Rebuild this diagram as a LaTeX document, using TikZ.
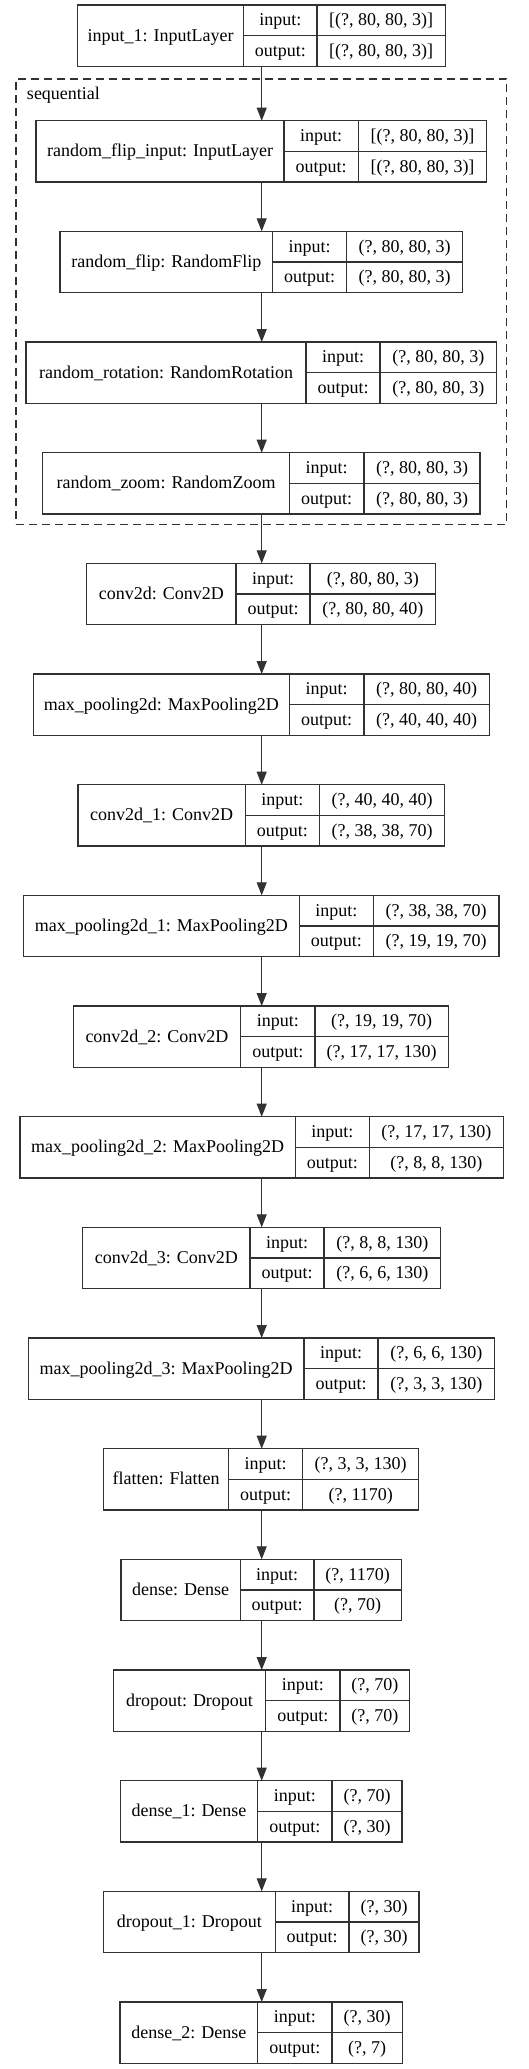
\documentclass[tikz,border=0pt]{standalone}
\usepackage{fontspec}
\setmainfont{Liberation Serif}
\usetikzlibrary{arrows.meta}
\definecolor{lc}{RGB}{50,50,50}
\tikzset{
  lbox/.style={draw=lc, line width=1.1pt, inner sep=0pt, outer sep=0pt, minimum height=61.3pt},
  ln/.style={draw=lc, line width=1.1pt},
  txt/.style={inner sep=0pt, outer sep=0pt, text height=15pt, text depth=4pt, font=\fontsize{18}{20}\selectfont},
  plaintxt/.style={inner sep=0pt, outer sep=0pt, font=\fontsize{18}{20}\selectfont},
  arr/.style={draw=lc, line width=1.1pt, -{Triangle[length=13pt, width=10pt]}},
  cluster/.style={draw=lc, line width=1.1pt, dash pattern=on 8pt off 5pt, inner sep=0pt, outer sep=0pt}
}
\newcommand{\lyr}[9]{%
  \pgfmathsetmacro{\lA}{(#3+#4)/2}%
  \pgfmathsetmacro{\lB}{(#4+#5)/2}%
  \pgfmathsetmacro{\lC}{(#5+#6)/2}%
  \pgfmathsetmacro{\lW}{#6-#3}%
  \pgfmathsetmacro{\lM}{-#2-30.65}%
  \pgfmathsetmacro{\lT}{-#2-15.33}%
  \pgfmathsetmacro{\lU}{-#2-45.98}%
  \pgfmathsetmacro{\lE}{-#2-61.3}%
  \node[lbox, minimum width=\lW pt, anchor=north west] (#1) at (#3pt,-#2pt) {};
  \draw[ln] (#4pt,-#2pt) -- (#4pt,\lE pt);
  \draw[ln] (#5pt,-#2pt) -- (#5pt,\lE pt);
  \draw[ln] (#4pt,\lM pt) -- (#6pt,\lM pt);
  \node[txt] (#1-l) at (\lA pt,\lM pt) {#7};
  \node[txt] (#1-il) at (\lB pt,\lT pt) {input:};
  \node[txt] (#1-ol) at (\lB pt,\lU pt) {output:};
  \node[txt] (#1-iv) at (\lC pt,\lT pt) {#8};
  \node[txt] (#1-ov) at (\lC pt,\lU pt) {#9};
}
\begin{document}
\begin{tikzpicture}
\useasboundingbox[fill=white] (0,0) rectangle (528pt,-2069pt);
\coordinate (ax) at (261.7pt,0);
\node[cluster, minimum width=490.7pt, minimum height=445.3pt, anchor=north west] (seq) at (16pt,-79pt) {};
\node[plaintxt, anchor=base west] (seqlabel) at (27pt,-99.5pt) {sequential};
\lyr{in1}{5}{77.7}{243.7}{317}{445.3}{input\_1: InputLayer}{[(?, 80, 80, 3)]}{[(?, 80, 80, 3)]}
\lyr{rfi}{120.7}{36}{284}{358.3}{486.7}{random\_flip\_input: InputLayer}{[(?, 80, 80, 3)]}{[(?, 80, 80, 3)]}
\lyr{rf}{231.3}{60}{272.7}{346.7}{462.7}{random\_flip: RandomFlip}{(?, 80, 80, 3)}{(?, 80, 80, 3)}
\lyr{rr}{342}{26}{306}{380}{496.7}{random\_rotation: RandomRotation}{(?, 80, 80, 3)}{(?, 80, 80, 3)}
\lyr{rz}{452.7}{42.7}{289.3}{364}{480}{random\_zoom: RandomZoom}{(?, 80, 80, 3)}{(?, 80, 80, 3)}
\lyr{c0}{563.3}{86.7}{236}{310}{435.7}{conv2d: Conv2D}{(?, 80, 80, 3)}{(?, 80, 80, 40)}
\lyr{m0}{674}{33.3}{289.3}{364}{489.3}{max\_pooling2d: MaxPooling2D}{(?, 80, 80, 40)}{(?, 40, 40, 40)}
\lyr{c1}{784.7}{78}{245.3}{319.3}{444.7}{conv2d\_1: Conv2D}{(?, 40, 40, 40)}{(?, 38, 38, 70)}
\lyr{m1}{895.3}{23.3}{299.3}{373.3}{499}{max\_pooling2d\_1: MaxPooling2D}{(?, 38, 38, 70)}{(?, 19, 19, 70)}
\lyr{c2}{1006}{73.3}{240.7}{315}{448.3}{conv2d\_2: Conv2D}{(?, 19, 19, 70)}{(?, 17, 17, 130)}
\lyr{m2}{1116.7}{20}{295.3}{369.3}{503.3}{max\_pooling2d\_2: MaxPooling2D}{(?, 17, 17, 130)}{(?, 8, 8, 130)}
\lyr{c3}{1227.3}{82.7}{250}{324}{440.7}{conv2d\_3: Conv2D}{(?, 8, 8, 130)}{(?, 6, 6, 130)}
\lyr{m3}{1338}{28.3}{304}{378}{494.7}{max\_pooling2d\_3: MaxPooling2D}{(?, 6, 6, 130)}{(?, 3, 3, 130)}
\lyr{fl}{1448.7}{103.7}{228.7}{302.7}{418.7}{flatten: Flatten}{(?, 3, 3, 130)}{(?, 1170)}
\lyr{d0}{1559.3}{121}{240.3}{314}{401.3}{dense: Dense}{(?, 1170)}{(?, 70)}
\lyr{do0}{1670}{113.3}{265.7}{340}{409.7}{dropout: Dropout}{(?, 70)}{(?, 70)}
\lyr{d1}{1780.7}{120.3}{257.7}{332}{402}{dense\_1: Dense}{(?, 70)}{(?, 30)}
\lyr{do1}{1891.3}{103.3}{275.3}{349}{419}{dropout\_1: Dropout}{(?, 30)}{(?, 30)}
\lyr{d2}{2002}{120}{257.7}{332}{402.3}{dense\_2: Dense}{(?, 30)}{(?, 7)}
\foreach \a/\b in {in1/rfi, rfi/rf, rf/rr, rr/rz, rz/c0, c0/m0, m0/c1, c1/m1, m1/c2, c2/m2, m2/c3, c3/m3, m3/fl, fl/d0, d0/do0, do0/d1, d1/do1, do1/d2}
  \draw[arr] (\a.south -| ax) -- (\b.north -| ax);
\end{tikzpicture}
\end{document}
